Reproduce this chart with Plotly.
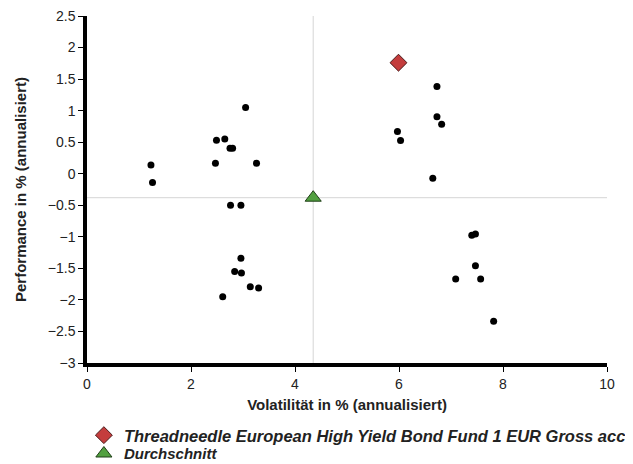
import plotly.graph_objects as go

# Peer-group funds (volatility %, performance %)
peer_vol = [3.05, 2.49, 2.65, 2.75, 2.80, 1.23, 2.47, 3.26, 1.26,
            6.73, 6.73, 6.82, 5.97, 6.03, 6.65,
            2.76, 2.96, 2.96, 2.84, 2.97, 3.14, 3.30, 2.61,
            7.40, 7.47, 7.47, 7.09, 7.57, 7.82]
peer_perf = [1.05, 0.53, 0.55, 0.405, 0.405, 0.14, 0.167, 0.167, -0.14,
             1.384, 0.905, 0.784, 0.668, 0.526, -0.07,
             -0.50, -0.50, -1.34, -1.55, -1.575, -1.79, -1.81, -1.95,
             -0.975, -0.955, -1.46, -1.67, -1.67, -2.34]

fund_name = "Threadneedle European High Yield Bond Fund 1 EUR Gross acc"
fund_vol = [5.99]
fund_perf = [1.76]

avg_name = "Durchschnitt"
avg_vol = [4.35]
avg_perf = [-0.38]

x_title = "Volatilität in % (annualisiert)"
y_title = "Performance in % (annualisiert)"

FONT = "Liberation Sans, Arial, sans-serif"

fig = go.Figure()

fig.add_trace(go.Scatter(
    x=peer_vol, y=peer_perf, mode="markers", showlegend=False,
    marker=dict(color="black", size=7, line=dict(width=0)),
    hoverinfo="skip"))

fig.add_trace(go.Scatter(
    x=fund_vol, y=fund_perf, mode="markers", name=fund_name, legend="legend",
    marker=dict(symbol="diamond", color="#c43d3d", size=13,
                line=dict(color="#4a1818", width=1))))

fig.add_trace(go.Scatter(
    x=avg_vol, y=avg_perf, mode="markers", name=avg_name, legend="legend2",
    marker=dict(symbol="triangle-up", color="#52a040", size=14,
                line=dict(color="#1f3f17", width=1))))

# crosshair through the average
fig.add_shape(type="line", xref="x", yref="paper", x0=avg_vol[0], x1=avg_vol[0],
              y0=0, y1=1, line=dict(color="#d6d6d6", width=1), layer="below")
fig.add_shape(type="line", xref="paper", yref="y", x0=0, x1=1,
              y0=avg_perf[0], y1=avg_perf[0], line=dict(color="#d6d6d6", width=1),
              layer="below")

axis_common = dict(
    showgrid=False, zeroline=False, showline=True, linecolor="black",
    linewidth=3.5, ticks="outside", ticklen=5, tickwidth=1, tickcolor="black",
    automargin=False, ticklabeloverflow="allow",
    tickfont=dict(family=FONT, size=14, color="#222"),
)

fig.update_xaxes(range=[0, 10], dtick=2, tick0=0,
                 title=dict(text=x_title, standoff=10,
                            font=dict(family=FONT, size=15, color="#222", weight="bold")),
                 **axis_common)
fig.update_yaxes(range=[-3, 2.5], dtick=0.5, tick0=0,
                 title=dict(text=y_title, standoff=19,
                            font=dict(family=FONT, size=15, color="#222", weight="bold")),
                 **axis_common)

fig.update_layout(
    width=633, height=480,
    margin=dict(l=78.5, r=33.5, t=7.5, b=124.5),
    plot_bgcolor="white", paper_bgcolor="white",
    legend=dict(orientation="v", x=-0.006, xanchor="left", y=-0.1583, yanchor="top",
                font=dict(family=FONT, size=16.5, color="#222",
                          style="italic", weight="bold"),
                itemwidth=30, bgcolor="rgba(0,0,0,0)"),
    legend2=dict(orientation="v", x=-0.006, xanchor="left", y=-0.214, yanchor="top",
                 font=dict(family=FONT, size=15, color="#222",
                           style="italic", weight="bold"),
                 itemwidth=30, bgcolor="rgba(0,0,0,0)"),
    showlegend=True,
)

fig.write_html("out.html")
